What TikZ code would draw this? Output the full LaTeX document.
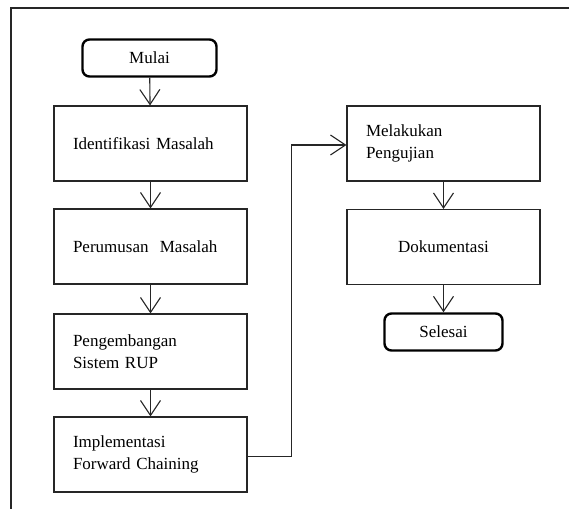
\documentclass[tikz,border=0pt]{standalone}
\usepackage{fontspec}
\setmainfont{Liberation Serif}
\usetikzlibrary{arrows.meta}
\begin{document}
\begin{tikzpicture}[x=1pt,y=-1pt,
  every node/.style={font=\fontsize{17}{22}\selectfont},
  procbox/.style={draw=black!85, line width=1.1pt, minimum width=193pt, minimum height=75pt,
    text width=155pt, inner xsep=19pt, inner ysep=0pt, align=left},
  procc/.style={procbox, align=center},
  termbox/.style={draw=black, line width=2.4pt, rounded corners=7pt, inner sep=0pt},
  arr/.style={draw=black!85, line width=1.1pt, -{Straight Barb[length=15pt,width=20pt,line width=1.1pt]}}
]
\useasboundingbox (0,0) rectangle (570,509);
% frame
\draw[line width=1.4pt, black!85] (569,8) -- (11,8) -- (11,509);
% nodes
\node[termbox, minimum width=134pt, minimum height=37pt] (mulai) at (149.5,58) {Mulai};
\node[procbox] (iden) at (150.5,143.5) {Identifikasi Masalah};
\node[procbox] (peru) at (150.5,246.5) {Perumusan\ \ Masalah};
\node[procbox] (peng) at (150.5,351.5) {Pengembangan\\Sistem RUP};
\node[procbox] (impl) at (150.5,454.5) {Implementasi\\Forward Chaining};
\node[procbox] (mel) at (443.5,143.5) {Melakukan\\Pengujian};
\node[procc] (dok) at (443.5,247) {Dokumentasi};
\node[termbox, minimum width=118pt, minimum height=37pt] (sel) at (443.5,332) {Selesai};
% connectors
\draw[arr] (mulai) -- (iden);
\draw[arr] (iden) -- (peru);
\draw[arr] (peru) -- (peng);
\draw[arr] (peng) -- (impl);
\draw[arr] ([yshift=-2pt]impl.east) -- ++(44,0) |- ([yshift=-1.5pt]mel.west);
\draw[arr] (mel) -- (dok);
\draw[arr] (dok) -- (sel);
\end{tikzpicture}
\end{document}
